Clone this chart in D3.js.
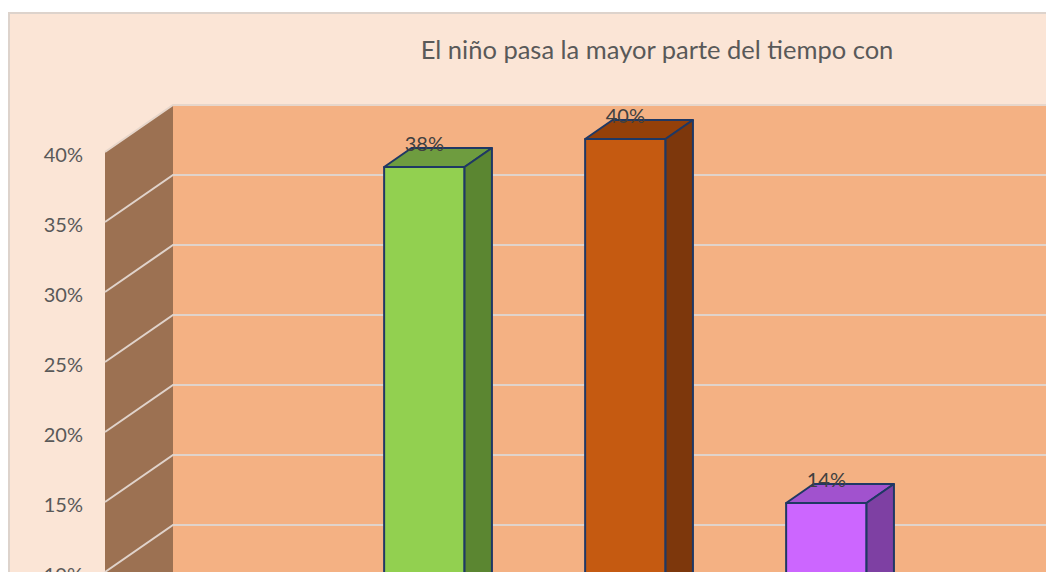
<!DOCTYPE html>
<html>
<head>
<meta charset="utf-8">
<script src="https://cdn.jsdelivr.net/npm/d3@7"></script>
<style>
  body { margin: 0; background: #fff; }
  svg { display: block; font-family: Lato, "Open Sans", sans-serif; }
</style>
</head>
<body>
<svg id="chart"></svg>
<script>
// data (first category sits below the visible crop)
const categories = ["Madre", "Padre", "Ambos", "Otros"];
const values = [0.06, 0.38, 0.40, 0.14];
const valueLabels = ["6%", "38%", "40%", "14%"];
const yTicks = [0, 0.05, 0.10, 0.15, 0.20, 0.25, 0.30, 0.35, 0.40];
const title = "El niño pasa la mayor parte del tiempo con";

const width = 1046, height = 572;

// bar colours: front / top / side
const faceColors = [
    ["#5B9BD5", "#41719C", "#2E5A82"],
    ["#92D050", "#6E9C3F", "#5B8631"],
    ["#C55A11", "#944009", "#7D370C"],
    ["#CC66FF", "#A152CE", "#7E40A3"]
];

const svg = d3.select("svg#chart")
    .attr("width", width)
    .attr("height", height);

// chart area
svg.append("rect")
    .attr("x", 9).attr("y", 13)
    .attr("width", width + 20).attr("height", height + 20)
    .attr("fill", "#FBE5D6")
    .attr("stroke", "#DDD3CC")
    .attr("stroke-width", 2);

// 3d offsets for the full depth of the plot
const depthX = 68, depthY = -47;

// scales in the front plane
const x = d3.scaleBand()
    .domain(categories)
    .range([104, 908])
    .paddingInner(0.6)
    .paddingOuter(0.3);

const y = d3.scaleLinear()
    .domain([0, 0.40])
    .range([712, 152]);

const proj = (xf, v, z) => [xf + depthX * z, y(v) + depthY * z];
const poly = pts => pts.map(p => p.join(",")).join(" ");

const wallLeft = x.range()[0] + 1;
const wallRight = width + 40;

// side wall
svg.append("polygon")
    .attr("points", poly([
        proj(wallLeft, 0.40, 0), proj(wallLeft, 0.40, 1),
        proj(wallLeft, 0, 1), proj(wallLeft, 0, 0)]))
    .attr("fill", "#9C7152");

// back wall
svg.append("polygon")
    .attr("points", poly([
        proj(wallLeft, 0.40, 1), [wallRight, y(0.40) + depthY],
        [wallRight, y(0) + depthY], proj(wallLeft, 0, 1)]))
    .attr("fill", "#F4B183");

// wall top edges
svg.append("polyline")
    .attr("points", poly([proj(wallLeft, 0.40, 0), proj(wallLeft, 0.40, 1), [wallRight, y(0.40) + depthY]]))
    .attr("fill", "none")
    .attr("stroke", "#E6D6CB")
    .attr("stroke-width", 2);

// gridlines
svg.append("g")
    .attr("class", "grid")
    .selectAll("polyline")
    .data(yTicks.filter(d => d < 0.40))
    .join("polyline")
    .attr("points", d => poly([proj(wallLeft, d, 0), proj(wallLeft, d, 1), [wallRight, y(d) + depthY]]))
    .attr("fill", "none")
    .attr("stroke", "#E0D3CB")
    .attr("stroke-width", 2);

// y axis labels along the front edge
const yAxis = d3.axisLeft(y)
    .tickValues(yTicks)
    .tickFormat(d3.format(".0%"))
    .tickSize(0)
    .tickPadding(0);

svg.append("g")
    .attr("transform", "translate(83, 3)")
    .call(yAxis)
    .call(g => g.select(".domain").remove())
    .selectAll("text")
    .attr("fill", "#595959")
    .attr("font-family", "Lato, sans-serif")
    .attr("font-size", 20);

// bars
const zFront = 0.277, zBack = 0.68;
const bars = svg.append("g")
    .attr("class", "bars")
    .selectAll("g")
    .data(values.map((v, i) => ({ cat: categories[i], v, i })))
    .join("g");

const bw = x.bandwidth();
bars.each(function (d) {
    const g = d3.select(this);
    const x0 = x(d.cat), x1 = x0 + bw;
    const c = faceColors[d.i];
    const edge = { stroke: "#1F3864", "stroke-width": 2, "stroke-linejoin": "round" };

    const front = g.append("polygon")
        .attr("points", poly([proj(x0, d.v, zFront), proj(x1, d.v, zFront), proj(x1, 0, zFront), proj(x0, 0, zFront)]))
        .attr("fill", c[0]);
    const top = g.append("polygon")
        .attr("points", poly([proj(x0, d.v, zFront), proj(x1, d.v, zFront), proj(x1, d.v, zBack), proj(x0, d.v, zBack)]))
        .attr("fill", c[1]);
    const side = g.append("polygon")
        .attr("points", poly([proj(x1, d.v, zFront), proj(x1, d.v, zBack), proj(x1, 0, zBack), proj(x1, 0, zFront)]))
        .attr("fill", c[2]);
    [front, top, side].forEach(s => Object.entries(edge).forEach(([k, val]) => s.attr(k, val)));
});

// data labels
bars.append("text")
    .attr("x", d => proj(x(d.cat) + bw / 2, d.v, zFront)[0])
    .attr("y", d => proj(x(d.cat) + bw / 2, d.v, zFront)[1] - 16)
    .attr("text-anchor", "middle")
    .attr("fill", "#404040")
    .attr("font-size", 20)
    .text((d, i) => valueLabels[i]);

// title
svg.append("text")
    .attr("x", 657)
    .attr("y", 59)
    .attr("text-anchor", "middle")
    .attr("fill", "#595959")
    .attr("font-size", 25.5)
    .text(title);
</script>
</body>
</html>
